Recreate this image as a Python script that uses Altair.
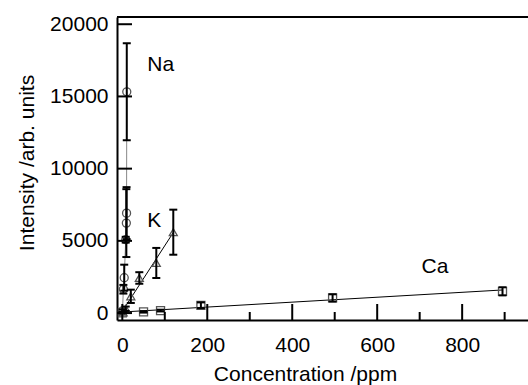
import altair as alt
import pandas as pd

# ---- data ----
na_conc = [0.5, 2.5, 4.5, 8, 9.5, 10, 10.5]
na_int = [150, 1650, 2450, 5080, 6230, 6920, 15320]
na_err = [100, 300, 900, 200, 2350, 1800, 3360]

k_conc = [2, 8, 20, 40, 80, 120]
k_int = [50, 300, 1160, 2430, 3470, 5600]
k_err = [50, 150, 460, 400, 1040, 1560]

ca_conc = [0, 50, 90, 185, 495, 895]
ca_int = [20, 83, 173, 539, 1050, 1505]
ca_err = [40, 50, 60, 200, 250, 280]

x_major = [0, 200, 400, 600, 800]
x_minor = [100, 300, 500, 700, 900]
y_major = [0, 5000, 10000, 15000, 20000]

label_text = ["Na", "K", "Ca"]
label_x = [58.8, 58.8, 704.5]
label_y = [16770, 5990, 2780]

FONT = "Liberation Sans"
W, H = 411, 303

rows = []
for s, xs, ys, es in [("Na", na_conc, na_int, na_err),
                      ("K", k_conc, k_int, k_err),
                      ("Ca", ca_conc, ca_int, ca_err)]:
    for x, y, e in zip(xs, ys, es):
        rows.append({"series": s, "conc": x, "intensity": y, "lo": y - e, "hi": y + e})
df = pd.DataFrame(rows)

xscale = alt.Scale(domain=[-12.5, 955], nice=False, zero=False)
yscale = alt.Scale(domain=[-480, 20500], nice=False, zero=False)

x_axis = alt.Axis(values=x_major, format="d", ticks=False, tickSize=0, grid=False,
                  domainColor="black", domainWidth=2, labelFont=FONT, labelFontSize=21,
                  labelColor="black", labelPadding=31.5, labelBaseline="alphabetic",
                  labelFlush=False, labelOverlap=False,
                  title="Concentration /ppm", titleFont=FONT, titleFontSize=21,
                  titleFontWeight="normal", titleColor="black", titleX=188, titleY=60.5,
                  titleBaseline="alphabetic", titleAlign="center")
y_axis = alt.Axis(values=y_major, format="d", ticks=False, tickSize=0, grid=False,
                  domainColor="black", domainWidth=2, labelFont=FONT, labelFontSize=21,
                  labelColor="black", labelPadding=9, labelAlign="right",
                  labelBaseline="middle", labelFlush=False, labelOverlap=False,
                  title="Intensity /arb. units", titleFont=FONT, titleFontSize=21,
                  titleFontWeight="normal", titleColor="black", titleAngle=270,
                  titleX=-83.5, titleY=145.5, titleBaseline="alphabetic", titleAlign="center")


def X(f):
    return alt.X(f"{f}:Q", scale=xscale, axis=x_axis)


def Y(f):
    return alt.Y(f"{f}:Q", scale=yscale, axis=y_axis)


base = alt.Chart(df)

frame_top = alt.Chart(pd.DataFrame({"a": [0]})).mark_rule(color="black", strokeWidth=2).encode(
    x=alt.value(0), x2=alt.value(W), y=alt.value(0))

na_line = base.transform_filter(alt.datum.series == "Na").mark_line(
    color="#888888", strokeWidth=1).encode(x=X("conc"), y=Y("intensity"), order="conc:Q")
k_line = base.transform_filter(alt.datum.series == "K").transform_regression(
    "conc", "intensity").mark_line(color="black", strokeWidth=1).encode(x=X("conc"), y=Y("intensity"))
ca_line = base.transform_filter(alt.datum.series == "Ca").transform_regression(
    "conc", "intensity").mark_line(color="black", strokeWidth=1).encode(x=X("conc"), y=Y("intensity"))

points = base.mark_point(filled=False, size=64, strokeWidth=1.3, color="#555555", opacity=1).encode(
    x=X("conc"), y=Y("intensity"),
    shape=alt.Shape("series:N", scale=alt.Scale(domain=["Na", "K", "Ca"],
                                               range=["circle", "triangle-up", "square"]),
                    legend=None))

err_rule = base.mark_rule(color="black", strokeWidth=2).encode(
    x=X("conc"), y=Y("lo"), y2="hi:Q")
cap_lo = base.mark_tick(orient="horizontal", size=8, thickness=2, color="black", opacity=1).encode(
    x=X("conc"), y=Y("lo"))
cap_hi = base.mark_tick(orient="horizontal", size=8, thickness=2, color="black", opacity=1).encode(
    x=X("conc"), y=Y("hi"))

xt_major = alt.Chart(pd.DataFrame({"t": x_major})).mark_rule(color="black", strokeWidth=2).encode(
    x=X("t"), y=alt.value(H), y2=alt.value(H - 16))
xt_minor = alt.Chart(pd.DataFrame({"t": x_minor})).mark_rule(color="black", strokeWidth=2).encode(
    x=X("t"), y=alt.value(H), y2=alt.value(H - 8))
yt_major = alt.Chart(pd.DataFrame({"t": y_major})).mark_rule(color="black", strokeWidth=2).encode(
    y=Y("t"), x=alt.value(0), x2=alt.value(15))

labels = alt.Chart(pd.DataFrame({"label": label_text, "lx": label_x, "ly": label_y})).mark_text(
    font=FONT, fontSize=21, align="left", baseline="alphabetic", color="black").encode(
    x=X("lx"), y=Y("ly"), text="label:N")

chart = alt.layer(
    frame_top, na_line, k_line, ca_line, points, err_rule, cap_lo, cap_hi,
    xt_major, xt_minor, yt_major, labels
).properties(
    width=W, height=H,
    autosize=alt.AutoSizeParams(type="none"),
    padding={"left": 117, "top": 17, "right": 0, "bottom": 65},
    background="white",
).configure_view(strokeWidth=0)

chart.save("out.html", embed_options={"renderer": "svg", "actions": False})
